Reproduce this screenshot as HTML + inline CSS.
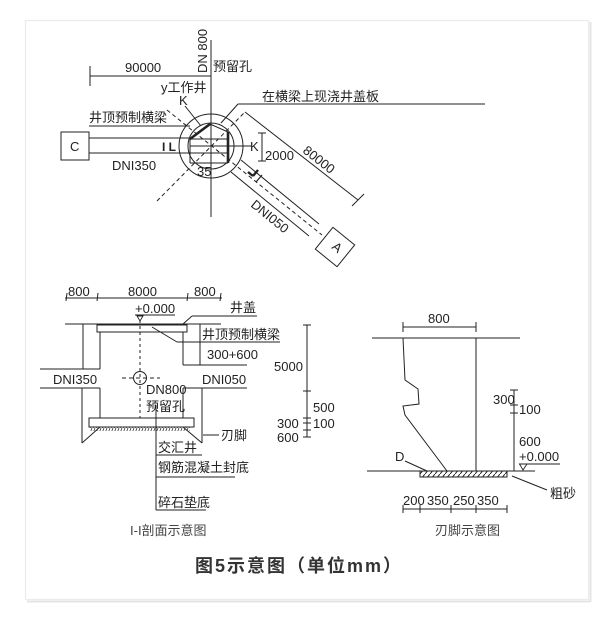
<!DOCTYPE html>
<html><head><meta charset="utf-8">
<style>
html,body{margin:0;padding:0;background:#fff;}
svg{display:block;}
text{font-family:"Liberation Sans","Noto Sans CJK SC",sans-serif;font-size:13px;fill:#222;}
.c{fill:#444;}
</style></head><body>
<svg width="612" height="628" viewBox="0 0 612 628" xmlns="http://www.w3.org/2000/svg">
<defs>
<pattern id="h1" width="5" height="6" patternUnits="userSpaceOnUse">
<line x1="0" y1="6" x2="5" y2="0" stroke="#222" stroke-width="1"/>
</pattern>
<pattern id="h2" width="3" height="4" patternUnits="userSpaceOnUse">
<line x1="0.5" y1="4" x2="2" y2="0" stroke="#333" stroke-width="0.8"/>
</pattern>
</defs>
<rect x="0" y="0" width="612" height="628" fill="#fff"/>
<!-- card -->
<line x1="27" y1="601.5" x2="590" y2="601.5" stroke="#e4e4e4" stroke-width="2"/>
<line x1="590.5" y1="22" x2="590.5" y2="602" stroke="#e4e4e4" stroke-width="2"/>
<rect x="25.5" y="20.5" width="563" height="579" fill="#fff" stroke="#ebebeb" stroke-width="1.2"/>

<g stroke="#222" stroke-width="1" fill="none">
<!-- ============ PLAN VIEW ============ -->
<line x1="211" y1="40" x2="211" y2="217"/>
<!-- 90000 dim -->
<line x1="90" y1="76" x2="211" y2="76"/>
<line x1="90" y1="66" x2="90" y2="86"/>
<!-- K leader -->
<line x1="185" y1="106" x2="201" y2="126"/>
<!-- cover slab leader -->
<line x1="238" y1="104" x2="485" y2="104"/>
<line x1="238" y1="104" x2="221" y2="123"/>
<!-- beam underline -->
<line x1="89" y1="126" x2="190" y2="126"/>
<!-- circles -->
<circle cx="211" cy="146" r="32"/>
<circle cx="211" cy="146" r="23"/>
<!-- box C -->
<rect x="61" y="132" width="28" height="28"/>
<!-- pipe C -->
<line x1="89" y1="138" x2="190" y2="138"/>
<line x1="89" y1="153" x2="190" y2="153"/>
<!-- inner lines -->
<line x1="190" y1="139" x2="228" y2="139"/>
<line x1="190" y1="146" x2="251" y2="146"/>
<line x1="190" y1="153" x2="228" y2="153"/>
<line x1="190" y1="163" x2="228" y2="163"/>
<line x1="190" y1="139" x2="190" y2="163"/>
<line x1="210" y1="124" x2="228" y2="132"/>
<line x1="190" y1="139" x2="210" y2="124" stroke-width="2.6"/>
<line x1="228" y1="132" x2="228" y2="163" stroke-width="2.6"/>
<!-- dashed center lines -->
<line x1="167" y1="110" x2="322" y2="235" stroke-dasharray="4,3"/>
<line x1="157" y1="201" x2="245" y2="112" stroke-dasharray="4,3"/>
<!-- 80000 dim -->
<line x1="245" y1="112" x2="358" y2="200"/>
<line x1="352" y1="206" x2="364" y2="194"/>
<!-- DN1050 pipe -->
<line x1="241" y1="160" x2="319" y2="224"/>
<line x1="231" y1="172" x2="309" y2="236"/>
<!-- box A -->
<rect x="321" y="233" width="28" height="28" transform="rotate(39 335 247)"/>
<!-- section mark on pipe -->
<line x1="248" y1="172" x2="253" y2="176" stroke-width="2.4"/>
<line x1="253" y1="176" x2="258" y2="170" stroke-width="2.4"/>
<line x1="256" y1="182" x2="262" y2="175" stroke-width="1.2"/>
<!-- 2000 dim -->
<line x1="262" y1="133" x2="262" y2="161"/>
<line x1="258" y1="133" x2="266" y2="133"/>
<line x1="258" y1="161" x2="266" y2="161"/>

<!-- ============ SECTION I-I ============ -->
<line x1="65" y1="298" x2="222" y2="298"/>
<line x1="67" y1="293" x2="66" y2="301"/>
<line x1="98" y1="293" x2="97" y2="301"/>
<line x1="188" y1="293" x2="187" y2="301"/>
<line x1="221" y1="293" x2="220" y2="301"/>
<line x1="135" y1="315" x2="175" y2="315"/>
<!-- ground -->
<line x1="65" y1="324" x2="221" y2="324"/>
<!-- slab -->
<rect x="97" y="325" width="90" height="7"/>
<!-- upper walls -->
<line x1="83" y1="324" x2="83" y2="369"/>
<line x1="100" y1="332" x2="100" y2="369"/>
<line x1="183" y1="332" x2="183" y2="365"/>
<line x1="200" y1="324" x2="200" y2="365"/>
<!-- pipes -->
<line x1="40" y1="369" x2="100" y2="369"/>
<line x1="40" y1="388" x2="100" y2="388"/>
<line x1="183" y1="365" x2="247" y2="365"/>
<line x1="183" y1="388" x2="247" y2="388"/>
<!-- lower walls -->
<line x1="82" y1="388" x2="82" y2="443"/>
<line x1="100" y1="388" x2="100" y2="418"/>
<line x1="100" y1="427" x2="82" y2="443"/>
<line x1="183" y1="388" x2="183" y2="418"/>
<line x1="183" y1="427" x2="202" y2="443"/>
<line x1="202" y1="388" x2="202" y2="443"/>
<!-- bottom seal -->
<rect x="89" y="418" width="105" height="9"/>
<rect x="90" y="427" width="100" height="4" fill="url(#h2)" stroke="none"/>
<!-- center dashed and hole -->
<line x1="140" y1="320" x2="140" y2="418" stroke-dasharray="3,3"/>
<circle cx="140" cy="378" r="6.5"/>
<line x1="122" y1="378" x2="160" y2="378" stroke-dasharray="4,3"/>
<!-- leaders -->
<line x1="183" y1="324" x2="192" y2="316"/>
<line x1="192" y1="316" x2="257" y2="316"/>
<line x1="152" y1="327" x2="177" y2="342"/>
<line x1="177" y1="342" x2="280" y2="342"/>
<line x1="203" y1="435" x2="219" y2="435"/>
<line x1="156" y1="405" x2="156" y2="510"/>
<line x1="156" y1="455" x2="202" y2="455"/>
<line x1="156" y1="477" x2="235" y2="477"/>
<line x1="156" y1="510" x2="206" y2="510"/>
<!-- vertical dim -->
<line x1="307" y1="325" x2="307" y2="437"/>
<line x1="303" y1="325" x2="311" y2="325"/>
<line x1="303" y1="391" x2="311" y2="391"/>
<line x1="303" y1="418" x2="311" y2="418"/>
<line x1="303" y1="423" x2="311" y2="423"/>
<line x1="303" y1="430" x2="311" y2="430"/>
<line x1="303" y1="437" x2="311" y2="437"/>

<!-- ============ CUTTING EDGE ============ -->
<line x1="403" y1="327" x2="476" y2="327"/>
<line x1="403" y1="322" x2="403" y2="332"/>
<line x1="476" y1="322" x2="476" y2="332"/>
<line x1="372" y1="338" x2="520" y2="338"/>
<polyline points="403,338 405,380 418,389 419,404 403,406 405,415 447,471"/>
<line x1="476" y1="338" x2="476" y2="471"/>
<line x1="367" y1="471" x2="535" y2="471"/>
<rect x="420" y="471" width="87" height="6" fill="url(#h1)"/>
<line x1="405" y1="461" x2="427" y2="471"/>
<line x1="512" y1="476" x2="547" y2="490"/>
<line x1="514" y1="390" x2="514" y2="471"/>
<line x1="510" y1="390" x2="518" y2="390"/>
<line x1="510" y1="405" x2="518" y2="405"/>
<line x1="510" y1="413" x2="518" y2="413"/>
<line x1="519" y1="464" x2="560" y2="464"/>
<line x1="403" y1="509" x2="507" y2="509"/>
<line x1="403" y1="505" x2="403" y2="513"/>
<line x1="420" y1="505" x2="420" y2="513"/>
<line x1="451" y1="505" x2="451" y2="513"/>
<line x1="476" y1="505" x2="476" y2="513"/>
<line x1="507" y1="505" x2="507" y2="513"/>
</g>
<polygon points="137,316 143,316 140,321" fill="none" stroke="#222" stroke-width="0.9"/>
<polygon points="519.5,464 527,464 523,470" fill="none" stroke="#222" stroke-width="0.9"/>

<!-- ===== TEXT: plan ===== -->
<text x="0" y="0" transform="translate(207,73) rotate(-90)">DN 800</text>
<text x="213" y="71">预留孔</text>
<text x="125" y="72">90000</text>
<text x="161" y="92">y工作井</text>
<text x="179" y="105">K</text>
<text x="262" y="101">在横梁上现浇井盖板</text>
<text x="89" y="122">井顶预制横梁</text>
<text x="70" y="151">C</text>
<text x="162" y="151" style="font-weight:bold;font-size:12px">I L</text>
<text x="112" y="170">DNI350</text>
<text x="197" y="176">35</text>
<text x="250" y="151">K</text>
<text x="265" y="160">2000</text>
<text x="0" y="0" transform="translate(302,152) rotate(38)">80000</text>
<text x="0" y="0" transform="translate(250,206) rotate(39)">DNI050</text>
<text x="0" y="0" transform="translate(331,248) rotate(39)">A</text>

<!-- ===== TEXT: section ===== -->
<text x="68" y="296">800</text>
<text x="128" y="296">8000</text>
<text x="194" y="296">800</text>
<text x="135" y="313">+0.000</text>
<text x="230" y="312">井盖</text>
<text x="202" y="339">井顶预制横梁</text>
<text x="207" y="359">300+600</text>
<text x="53" y="384">DNI350</text>
<text x="202" y="384">DNI050</text>
<text x="146" y="394">DN800</text>
<text x="146" y="411">预留孔</text>
<text x="221" y="440">刃脚</text>
<text x="158" y="452">交汇井</text>
<text x="158" y="472">钢筋混凝土封底</text>
<text x="158" y="507">碎石垫底</text>
<text x="274" y="371">5000</text>
<text x="313" y="412">500</text>
<text x="277" y="428">300</text>
<text x="313" y="428">100</text>
<text x="277" y="442">600</text>
<text class="c" x="130" y="535">I-I剖面示意图</text>

<!-- ===== TEXT: cutting edge ===== -->
<text x="428" y="323">800</text>
<text x="493" y="404">300</text>
<text x="519" y="414">100</text>
<text x="519" y="446">600</text>
<text x="519" y="461">+0.000</text>
<text x="395" y="461">D</text>
<text x="550" y="498">粗砂</text>
<text x="403" y="505">200</text>
<text x="427" y="505">350</text>
<text x="453" y="505">250</text>
<text x="477" y="505">350</text>
<text class="c" x="435" y="535">刃脚示意图</text>

<!-- title -->
<text x="195" y="572" style="font-size:18px;font-weight:bold;fill:#333;letter-spacing:2px">图5示意图（单位mm）</text>
</svg>
</body></html>
